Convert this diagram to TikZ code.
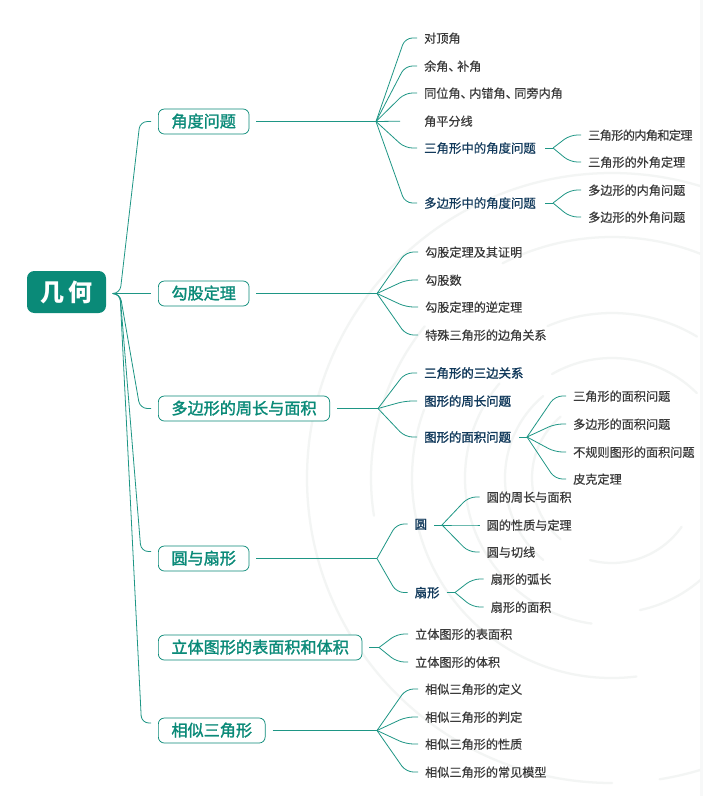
\documentclass[tikz,border=0pt]{standalone}
\usepackage{fontspec}
\setmainfont{Noto Sans CJK SC}
\newfontfamily\semib[FakeBold=1.6]{Noto Sans CJK SC}
\newfontfamily\lightb[FakeBold=0.5]{Noto Sans CJK SC}
\usetikzlibrary{calc}
\definecolor{teal1}{HTML}{0A8A78}
\definecolor{lineT}{HTML}{1E9685}
\definecolor{navy}{HTML}{123A5C}
\definecolor{leafc}{HTML}{3A3A3A}
\definecolor{wm}{HTML}{F3F5F4}
\definecolor{edge}{HTML}{F7F8F8}
\newcommand{\dun}{、\hspace{-2.6pt}}
\newcommand{\spoke}[3]{\draw[conn] (#1) -- ($(#2)+(-#3,0)$) -- (#2);}
\newcommand{\wmarc}[3]{\draw[wmline] ($(wc)+(#2:#1)$) arc[start angle=#2,end angle=#3,radius=#1];}
\tikzset{
  x=0.75pt,y=-0.75pt,
  conn/.style={draw=lineT,line width=0.6pt,rounded corners=5.5pt},
  wmline/.style={draw=wm,line width=1.7pt,line cap=round},
  rootnode/.style={fill=teal1,text=white,font=\fontsize{18pt}{18pt}\selectfont\bfseries,rounded corners=5.5pt,minimum width=59.25pt,minimum height=31.5pt,inner sep=0pt,anchor=center},
  branch/.style={anchor=west,draw=teal1,line width=0.55pt,fill=white,text=teal1,rounded corners=4.5pt,font=\fontsize{12.1pt}{12pt}\semib,inner xsep=9.8pt,inner ysep=0pt,minimum height=18.75pt,text height=10.2pt,text depth=1.6pt},
  leaf/.style={anchor=west,text=leafc,font=\fontsize{9.1pt}{9pt}\lightb,inner xsep=5.2pt,inner ysep=0pt,text height=8.2pt,text depth=1pt},
  mid/.style={leaf,text=navy,font=\fontsize{9.3pt}{9pt}\lightb},
  midb/.style={leaf,text=navy,font=\fontsize{9.3pt}{9pt}\semib}
}
\begin{document}
\begin{tikzpicture}
\useasboundingbox (0,0) rectangle (703,796);
\fill[white] (0,0) rectangle (703,796);
\fill[edge] (700,0) rectangle (703,796);
\begin{scope}
\clip (0,0) rectangle (700,796);
\coordinate (wc) at (612,478);
\wmarc{305}{90}{288}
\wmarc{305}{71}{81}
\wmarc{241}{171}{219}
\wmarc{241}{243}{292}
\wmarc{200}{83}{200}
\wmarc{147}{98}{220}
\wmarc{165}{247}{301}
\wmarc{120}{240}{315}
\wmarc{135}{47}{78}
\wmarc{107}{130}{230}
\wmarc{85}{35}{105}
\wmarc{80}{130}{230}
\end{scope}
% root and branches
\node[rootnode] (root) at (66.5,292) {几\hspace{2.5pt}何};
\coordinate (rs) at (113,293.5);
\coordinate (rj) at (120,293.5);
\node[branch] (b1) at (158,121.5) {角度问题};
\node[branch] (b2) at (158,293.5) {勾股定理};
\node[branch] (b3) at (158,408.5) {多边形的周长与面积};
\node[branch] (b4) at (158,558.5) {圆与扇形};
\node[branch] (b5) at (158,647.5) {立体图形的表面积和体积};
\node[branch] (b6) at (158,730.5) {相似三角形};
\coordinate (e1) at ($(b1.west)+(-7,0)$);
\coordinate (e3) at ($(b3.west)+(-7,0)$);
\coordinate (e4) at ($(b4.west)+(-7,-7)$);
\coordinate (e6) at ($(b6.west)+(-7,-7.5)$);
\draw[conn] (rs) -- (rj) -- (140,121.5) -- (e1);
\draw[conn] (rs) -- (rj) -- (140,408.5) -- (e3);
\draw[conn] (rs) -- (rj) -- (141,551.5) -- (e4);
\draw[conn] (rs) -- (rj) -- (141.5,723) -- (e6);
\draw[conn] (rs) -- ($(b2.west)+(-7,0)$);
% hubs
\coordinate (h1) at (376,121.5);
\coordinate (h2) at (377,293.5);
\coordinate (h3) at (378,408.5);
\coordinate (h4) at (377,558.5);
\coordinate (h5) at (379,647.5);
\coordinate (h6) at (377,730.5);
\draw[conn] ($(b1.east)+(7,0)$) -- (h1);
\draw[conn] ($(b2.east)+(7,0)$) -- (h2);
\draw[conn] ($(b3.east)+(7,0)$) -- (h3);
\draw[conn] ($(b4.east)+(7,0)$) -- (h4);
\draw[conn] ($(b5.east)+(7,0)$) -- (h5);
\draw[conn] ($(b6.east)+(7,0)$) -- (h6);
% angle group
\node[leaf] (a1) at (417,38) {对顶角};
\node[leaf] (a2) at (417,66) {余角\dun 补角};
\node[leaf] (a3) at (417,93) {同位角\dun 内错角\dun 同旁内角};
\node[leaf] (a4) at (417,121) {角平分线};
\node[mid] (a5) at (417,148) {三角形中的角度问题};
\node[mid] (a6) at (417,203) {多边形中的角度问题};
\spoke{h1}{a1.west}{12}
\spoke{h1}{a2.west}{12}
\spoke{h1}{a3.west}{12}
\draw[conn,shorten >=12.75pt] (h1) -- (a4.west);
\spoke{h1}{a5.west}{12}
\spoke{h1}{a6.west}{12}
\coordinate (k5) at (553,148);
\coordinate (k6) at (553,203);
\draw[conn] ($(a5.east)+(2,0)$) -- (k5);
\draw[conn] ($(a6.east)+(2,0)$) -- (k6);
\node[leaf] (c1) at (581,135) {\addfontfeature{LetterSpace=-5}三角形的内角和定理};
\node[leaf] (c2) at (581,162) {三角形的外角定理};
\node[leaf] (c3) at (581,190) {多边形的内角问题};
\node[leaf] (c4) at (581,217) {多边形的外角问题};
\spoke{k5}{c1.west}{11}
\spoke{k5}{c2.west}{11}
\spoke{k6}{c3.west}{11}
\spoke{k6}{c4.west}{11}
% pythagoras
\node[leaf] (p1) at (418,252) {勾股定理及其证明};
\node[leaf] (p2) at (418,280) {勾股数};
\node[leaf] (p3) at (418,307) {勾股定理的逆定理};
\node[leaf] (p4) at (418,335) {特殊三角形的边角关系};
\spoke{h2}{p1.west}{12}
\spoke{h2}{p2.west}{12}
\spoke{h2}{p3.west}{12}
\spoke{h2}{p4.west}{12}
% polygon
\node[midb] (q1) at (417,373) {三角形的三边关系};
\node[midb] (q2) at (417,401) {图形的周长问题};
\node[midb] (q3) at (417,437) {图形的面积问题};
\spoke{h3}{q1.west}{12}
\spoke{h3}{q2.west}{12}
\spoke{h3}{q3.west}{12}
\coordinate (k3) at (527,437);
\draw[conn] ($(q3.east)+(1,0)$) -- (k3);
\node[leaf] (r1) at (566,396) {三角形的面积问题};
\node[leaf] (r2) at (566,424) {多边形的面积问题};
\node[leaf] (r3) at (566,452) {不规则图形的面积问题};
\node[leaf] (r4) at (566,479) {皮克定理};
\spoke{k3}{r1.west}{11}
\spoke{k3}{r2.west}{11}
\spoke{k3}{r3.west}{11}
\spoke{k3}{r4.west}{11}
% circle
\node[midb] (s1) at (407.5,524) {圆};
\node[midb] (s2) at (407.5,592.5) {扇形};
\spoke{h4}{s1.west}{11}
\spoke{h4}{s2.west}{11}
\coordinate (k7) at (442,525);
\coordinate (k8) at (455,592.5);
\draw[conn] ($(s1.east)+(0,1)$) -- (k7);
\draw[conn] (s2.east) -- (k8);
\node[leaf] (t1) at (479.5,497) {圆的周长与面积};
\node[leaf] (t2) at (479.5,525) {圆的性质与定理};
\node[leaf] (t3) at (479.5,552) {圆与切线};
\node[leaf] (t4) at (483.5,579) {扇形的弧长};
\node[leaf] (t5) at (483.5,607) {扇形的面积};
\spoke{k7}{t1.west}{11}
\spoke{k7}{t2.west}{11}
\spoke{k7}{t3.west}{11}
\spoke{k8}{t4.west}{11}
\spoke{k8}{t5.west}{11}
% solid
\node[leaf] (u1) at (408,634) {立体图形的表面积};
\node[leaf] (u2) at (408,662) {立体图形的体积};
\spoke{h5}{u1.west}{11}
\spoke{h5}{u2.west}{11}
% similar
\node[leaf] (v1) at (418,689) {相似三角形的定义};
\node[leaf] (v2) at (418,717) {相似三角形的判定};
\node[leaf] (v3) at (418,744) {相似三角形的性质};
\node[leaf] (v4) at (418,772) {相似三角形的常见模型};
\spoke{h6}{v1.west}{12}
\spoke{h6}{v2.west}{12}
\spoke{h6}{v3.west}{12}
\spoke{h6}{v4.west}{12}
\end{tikzpicture}
\end{document}
